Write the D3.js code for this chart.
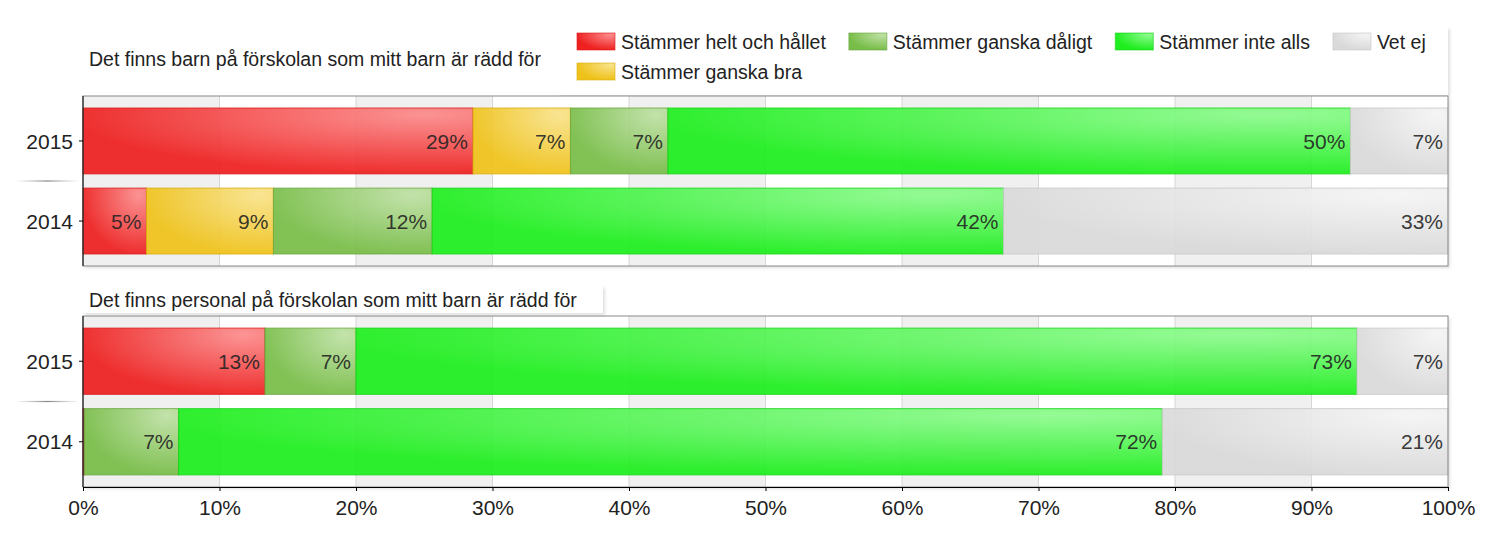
<!DOCTYPE html>
<html><head><meta charset="utf-8">
<script src="https://cdn.jsdelivr.net/npm/d3@7"></script>
<style>
html,body{margin:0;padding:0;background:#fff;}
svg{display:block;font-family:"Liberation Sans",Arial,sans-serif;}
</style></head>
<body><svg id="chart" width="1500" height="537"></svg>
<script>
// ---- data ----
const series = ["Stämmer helt och hållet","Stämmer ganska bra","Stämmer ganska dåligt","Stämmer inte alls","Vet ej"];
const years = ["2015","2014"];
const panelTitles = ["Det finns barn på förskolan som mitt barn är rädd för","Det finns personal på förskolan som mitt barn är rädd för"];
const barnValues2015 = [28.57, 7.14, 7.14, 50.00, 7.14];
const barnValues2014 = [4.65, 9.30, 11.63, 41.86, 32.56];
const personalValues2015 = [13.33, 0, 6.67, 73.33, 6.67];
const personalValues2014 = [0.1, 0, 6.9, 72.07, 20.93];
const tickValues = [0,10,20,30,40,50,60,70,80,90,100];
const tickLabels = ["0%","10%","20%","30%","40%","50%","60%","70%","80%","90%","100%"];

// ---- style ----
const darkColors  = ["#ee2020","#efc21a","#78bd48","#1eee1e","#d9d9d9"];
const lightColors = ["#fc8c8c","#f8e28a","#bfe1a5","#8efb8e","#f4f4f4"];
const strokeColors= ["#d81c1c","#d9ad12","#6aa83e","#18d418","#c8c8c8"];

const svg = d3.select("#chart");
const defs = svg.append("defs");
series.forEach((s,i)=>{
  const g = defs.append("radialGradient").attr("id","grad"+i)
    .attr("cx",0.88).attr("cy",0.1).attr("fx",0.88).attr("fy",0.1).attr("r",0.9);
  g.append("stop").attr("offset","0%").attr("stop-color",lightColors[i]);
  g.append("stop").attr("offset","100%").attr("stop-color",darkColors[i]);
});
const sh = defs.append("filter").attr("id","shadow").attr("x","-5%").attr("y","-20%").attr("width","110%").attr("height","150%");
sh.append("feDropShadow").attr("dx",2).attr("dy",2).attr("stdDeviation",1.5).attr("flood-color","#000").attr("flood-opacity",0.12);

const x = d3.scaleLinear().domain([0,100]).range([83,1448]);

// legend box
svg.append("rect").attr("x",558).attr("y",27).attr("width",890).attr("height",68)
  .attr("fill","#fff").attr("filter","url(#shadow)");

const panels = [
  {title: panelTitles[0], rows:[barnValues2015, barnValues2014], top:96, bottom:266, titleY:66},
  {title: panelTitles[1], rows:[personalValues2015, personalValues2014], top:316, bottom:487, titleY:307}
];

panels.forEach((p,pi)=>{
  const y = d3.scaleBand().domain(years).range([p.top,p.bottom]).paddingInner(0.177).paddingOuter(0.15);
  const g = svg.append("g");
  g.append("rect").attr("x",x(0)).attr("y",p.top).attr("width",x(100)-x(0)).attr("height",p.bottom-p.top)
    .attr("fill","#fff").attr("filter","url(#shadow)");
  const intervals = d3.pairs(tickValues);
  g.selectAll(".band").data(intervals).join("rect")
    .attr("x",d=>x(d[0])).attr("y",p.top).attr("width",d=>x(d[1])-x(d[0])).attr("height",p.bottom-p.top)
    .attr("fill",(d,i)=> i%2===0 ? "#f0f0f0" : "#ffffff");
  g.selectAll(".grid").data(tickValues.slice(1,-1)).join("line")
    .attr("x1",d=>x(d)).attr("x2",d=>x(d)).attr("y1",p.top).attr("y2",p.bottom)
    .attr("stroke","#d6d6d6").attr("stroke-width",1);
  p.rows.forEach((vals,ri)=>{
    let cum = 0;
    const segs = vals.map((v,i)=>{const s={i, v, x0:cum, x1:cum+v}; cum+=v; return s;}).filter(d=>d.v>0);
    const yr = years[ri];
    g.selectAll(".seg"+ri).data(segs).join("rect")
      .attr("x",d=>x(d.x0)).attr("y",y(yr)).attr("width",d=>x(d.x1)-x(d.x0)).attr("height",y.bandwidth())
      .attr("fill",d=>`url(#grad${d.i})`).attr("fill-opacity",0.93)
      .attr("stroke",d=>strokeColors[d.i]).attr("stroke-opacity",0.8).attr("stroke-width",1);
    g.selectAll(".lab"+ri).data(segs.filter(d=>d.v>=2)).join("text")
      .attr("x",d=>x(d.x1)-5).attr("y",y(yr)+y.bandwidth()/2).attr("dy","0.36em")
      .attr("text-anchor","end").attr("font-size",21).attr("fill","#222").attr("fill-opacity",0.9)
      .text(d=>Math.round(d.v)+"%");
  });
  g.append("rect").attr("x",x(0)).attr("y",p.top).attr("width",x(100)-x(0)).attr("height",p.bottom-p.top)
    .attr("fill","none").attr("stroke","#8a8a8a").attr("stroke-width",1);
  g.append("line").attr("x1",x(0)).attr("x2",x(0)).attr("y1",p.top).attr("y2",p.bottom).attr("stroke","#000");
  g.selectAll(".ytick").data(years).join("line")
    .attr("x1",x(0)-4).attr("x2",x(0)).attr("y1",d=>y(d)+y.bandwidth()/2).attr("y2",d=>y(d)+y.bandwidth()/2)
    .attr("stroke","#000");
  g.selectAll(".ylab").data(years).join("text")
    .attr("x",x(0)-10).attr("y",d=>y(d)+y.bandwidth()/2).attr("dy","0.36em")
    .attr("text-anchor","end").attr("font-size",21).attr("fill","#222").text(d=>d);
  const sepY = (y(years[0])+y.bandwidth()+y(years[1]))/2;
  const lg = defs.append("linearGradient").attr("id","sep"+pi);
  lg.append("stop").attr("offset","0%").attr("stop-color","#999").attr("stop-opacity",0);
  lg.append("stop").attr("offset","50%").attr("stop-color","#777").attr("stop-opacity",0.9);
  lg.append("stop").attr("offset","100%").attr("stop-color","#999").attr("stop-opacity",0);
  g.append("rect").attr("x",15).attr("y",sepY-0.6).attr("width",x(0)-18).attr("height",1.2).attr("fill",`url(#sep${pi})`);
  if(pi===1){
    svg.append("rect").attr("x",x(0)).attr("y",p.titleY-21).attr("width",520).attr("height",27)
      .attr("fill","#fff").attr("filter","url(#shadow)");
  }
  svg.append("text").attr("x",89).attr("y",p.titleY).attr("font-size",19.5).attr("fill","#222").text(p.title);
  if(pi===1){
    const ax = svg.append("g").attr("transform",`translate(0,${p.bottom})`)
      .call(d3.axisBottom(x).tickValues(tickValues).tickFormat((d,i)=>tickLabels[i]).tickSizeInner(4).tickSizeOuter(0));
    ax.select(".domain").attr("stroke","#000");
    ax.selectAll(".tick line").attr("stroke","#000");
    ax.selectAll(".tick text").attr("font-size",21).attr("fill","#222").attr("font-family","Liberation Sans, Arial, sans-serif").attr("y",13).attr("dy","0.71em");
  }
});

// legend (2 rows, filled column-first)
const leg = svg.append("g");
const rowsY = [33,63];
let colX = 577;
const cols = [[0,1],[2],[3],[4]];
cols.forEach(col=>{
  let maxW = 0;
  col.forEach((si,r)=>{
    const it = leg.append("g").attr("transform",`translate(${colX},${rowsY[r]})`);
    it.append("rect").attr("width",38).attr("height",17).attr("fill",`url(#grad${si})`)
      .attr("stroke",strokeColors[si]).attr("stroke-opacity",0.6);
    const t = it.append("text").attr("x",44).attr("y",16).attr("font-size",19.5).attr("fill","#222").text(series[si]);
    maxW = Math.max(maxW, t.node().getComputedTextLength());
  });
  colX += 44 + maxW + 23;
});
</script></body></html>
